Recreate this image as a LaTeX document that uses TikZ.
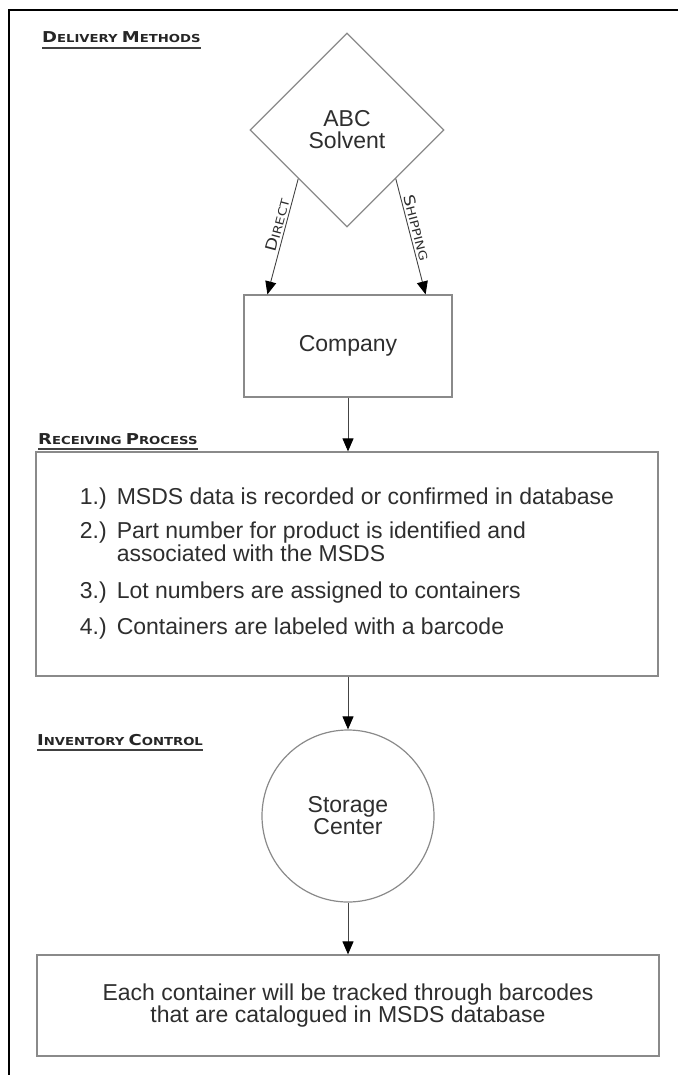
\documentclass[tikz,border=0pt]{standalone}
\usepackage{fontspec}
\setmainfont{Liberation Sans}
\newfontfamily\hdfont[FakeStretch=1.2]{DejaVu Sans}
\usetikzlibrary{shapes.geometric,arrows.meta}
\definecolor{boxgray}{HTML}{8A8A8A}
\definecolor{linegray}{HTML}{444444}
\definecolor{txtgray}{HTML}{2E2E2E}
\newcommand{\hcap}[2]{{\fontsize{15}{15}\selectfont #1}{\fontsize{11}{11}\selectfont #2}}
\newcommand{\lcap}[2]{{\fontsize{15}{15}\selectfont #1}{\fontsize{11.5}{11.5}\selectfont #2}}
\tikzset{
  shapebox/.style={draw=boxgray, line width=1.2pt, inner sep=0pt, text=txtgray,
    font=\fontsize{23}{22}\selectfont, align=center},
  flowarrow/.style={draw=linegray, line width=0.9pt,
    -{Triangle[width=11pt,length=13pt,color=black,fill=black]}},
  header/.style={anchor=base west, inner sep=0pt, text=black!85, font=\hdfont\bfseries},
  headerline/.style={draw=black!75, line width=1.8pt},
  framerule/.style={draw=black, line width=1.3pt},
  arrowlabel/.style={sloped, above, inner sep=2pt, text=txtgray, font=\hdfont}
}
\begin{document}
\begin{tikzpicture}[x=1pt,y=-1pt]
\useasboundingbox (0,0) rectangle (678,1075);
% frame
\coordinate (fTL) at (9,10);
\coordinate (fTR) at (678,10);
\coordinate (fBL) at (9,1075);
\draw[framerule] (fTR) -- (fTL) -- (fBL);

% headers
\node[header] (hd1) at (42,43) {\hcap{D}{ELIVERY} \hcap{M}{ETHODS}};
\draw[headerline] ([yshift=-5pt]hd1.base west) -- ([yshift=-5pt]hd1.base east);
\node[header] (hd2) at (38,444) {\hcap{R}{ECEIVING} \hcap{P}{ROCESS}};
\draw[headerline] ([yshift=-5pt]hd2.base west) -- ([yshift=-5pt]hd2.base east);
\node[header] (hd3) at (37,745) {\hcap{I}{NVENTORY} \hcap{C}{ONTROL}};
\draw[headerline] ([yshift=-5pt]hd3.base west) -- ([yshift=-5pt]hd3.base east);

% nodes
\node[shapebox, diamond, aspect=1, minimum width=194pt, minimum height=194pt] (abc) at (347,130) {ABC\\Solvent};
\node[shapebox, rectangle, minimum width=208pt, minimum height=102pt] (company) at (348,346) {Company};
\node[shapebox, rectangle, minimum width=622pt, minimum height=224pt] (rcv) at (347,564)
  {\begin{tabular}{@{}l@{\hspace{10pt}}l@{}}
   1.) & MSDS data is recorded or confirmed in database\\[11pt]
   2.) & Part number for product is identified and\\
       & associated with the MSDS\\[14pt]
   3.) & Lot numbers are assigned to containers\\[12pt]
   4.) & Containers are labeled with a barcode
   \end{tabular}};
\node[shapebox, circle, minimum size=172pt] (storage) at (348,816) {Storage\\Center};
\node[shapebox, rectangle, minimum width=622pt, minimum height=101pt] (track) at (348,1005.5)
  {Each container will be tracked through barcodes\\that are catalogued in MSDS database};

% connectors
\draw[flowarrow] (abc.south west) -- node[arrowlabel, pos=0.42] {\lcap{D}{IRECT}} ([xshift=24pt]company.north west);
\draw[flowarrow] (abc.south east) -- node[arrowlabel, pos=0.44] {\lcap{S}{HIPPING}} ([xshift=-27pt]company.north east);
\draw[flowarrow] (company.south) -- (company.south |- rcv.north);
\draw[flowarrow] (rcv.south -| storage.north) -- (storage.north);
\draw[flowarrow] (storage.south) -- (storage.south |- track.north);
\end{tikzpicture}
\end{document}
